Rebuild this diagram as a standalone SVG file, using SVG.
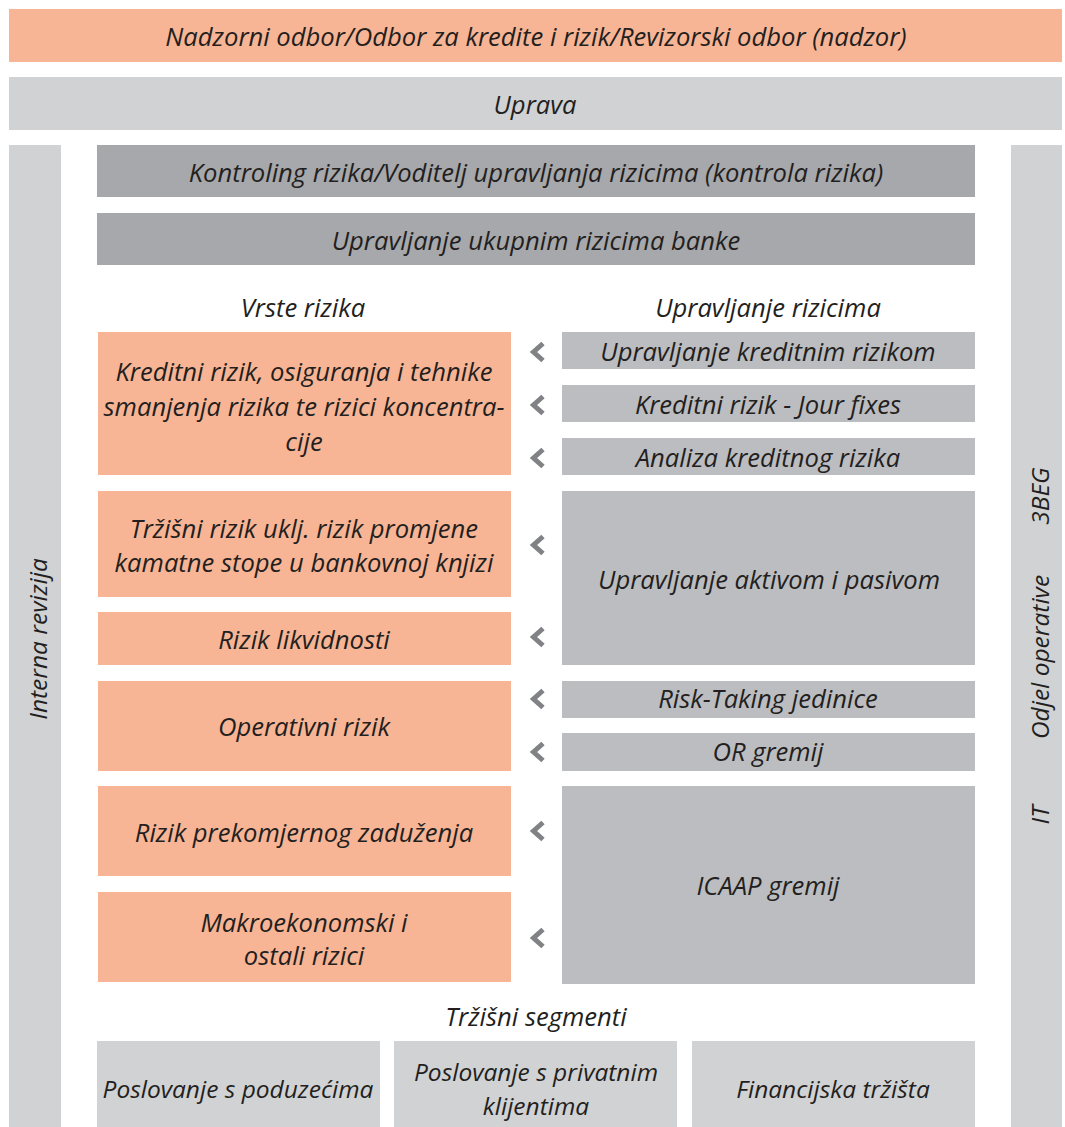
<svg xmlns="http://www.w3.org/2000/svg" width="1065" height="1127" viewBox="0 0 1065 1127">
<style>
.t{font-family:"Open Sans",Lato,"DejaVu Sans",sans-serif;font-style:italic;font-size:25.6px;fill:#231f20;text-anchor:middle;dominant-baseline:central}
.s{font-size:24.5px}
.o{fill:#f8b595}
.l{fill:#d1d2d4}
.d{fill:#a7a8ab}
.m{fill:#bcbdc0}
.ch{fill:none;stroke:#818285;stroke-width:5;stroke-linejoin:miter;stroke-linecap:butt}
</style>
<defs>
<path id="chev" class="ch" d="M6,-8.5 L-3.5,0 L6,8.5"/>
</defs>
<rect width="1065" height="1127" fill="#fff"/>
<g id="nadzor"><rect class="o" x="9" y="9" width="1053" height="53"/><text class="t" x="536" y="36">Nadzorni odbor/Odbor za kredite i rizik/Revizorski odbor (nadzor)</text></g>
<g id="uprava"><rect class="l" x="9" y="77" width="1053" height="53"/><text class="t" x="535" y="104">Uprava</text></g>
<g id="interna"><rect class="l" x="9" y="145" width="52" height="982"/><text class="t s" transform="translate(37,639) rotate(-90)">Interna revizija</text></g>
<g id="odjel"><rect class="l" x="1011" y="145" width="51" height="982"/>
<text class="t s" transform="translate(1039,815) rotate(-90)">IT</text>
<text class="t s" transform="translate(1039,657) rotate(-90)">Odjel operative</text>
<text class="t s" transform="translate(1039,496) rotate(-90)">3BEG</text></g>
<g id="kontroling"><rect class="d" x="97" y="145" width="878" height="52"/><text class="t" x="536" y="172">Kontroling rizika/Voditelj upravljanja rizicima (kontrola rizika)</text></g>
<g id="ukupno"><rect class="d" x="97" y="213" width="878" height="52"/><text class="t" x="536" y="240">Upravljanje ukupnim rizicima banke</text></g>
<g id="vrste"><text class="t" x="303" y="307">Vrste rizika</text></g>
<g id="upravljanje"><text class="t" x="768" y="307">Upravljanje rizicima</text></g>
<g id="r1"><rect class="o" x="98" y="332" width="413" height="143"/><text class="t" x="304" y="371">Kreditni rizik, osiguranja i tehnike</text><text class="t" x="304" y="406">smanjenja rizika te rizici koncentra-</text><text class="t" x="304" y="441">cije</text></g>
<g id="r2"><rect class="o" x="98" y="491" width="413" height="106"/><text class="t" x="304" y="528">Tržišni rizik uklj. rizik promjene</text><text class="t" x="304" y="562">kamatne stope u bankovnoj knjizi</text></g>
<g id="r3"><rect class="o" x="98" y="612" width="413" height="53"/><text class="t" x="304" y="639">Rizik likvidnosti</text></g>
<g id="r4"><rect class="o" x="98" y="681" width="413" height="90"/><text class="t" x="304" y="726">Operativni rizik</text></g>
<g id="r5"><rect class="o" x="98" y="786" width="413" height="90"/><text class="t" x="304" y="832">Rizik prekomjernog zaduženja</text></g>
<g id="r6"><rect class="o" x="98" y="892" width="413" height="90"/><text class="t" x="304" y="922">Makroekonomski i</text><text class="t" x="304" y="955">ostali rizici</text></g>
<g id="u1"><rect class="m" x="562" y="332" width="413" height="37"/><text class="t" x="768" y="351">Upravljanje kreditnim rizikom</text></g>
<g id="u2"><rect class="m" x="562" y="385" width="413" height="37"/><text class="t" x="768" y="404">Kreditni rizik - Jour fixes</text></g>
<g id="u3"><rect class="m" x="562" y="438" width="413" height="37"/><text class="t" x="768" y="457">Analiza kreditnog rizika</text></g>
<g id="u4"><rect class="m" x="562" y="491" width="413" height="174"/><text class="t" x="769" y="579">Upravljanje aktivom i pasivom</text></g>
<g id="u5"><rect class="m" x="562" y="681" width="413" height="37"/><text class="t" x="768" y="698">Risk-Taking jedinice</text></g>
<g id="u6"><rect class="m" x="562" y="733" width="413" height="38"/><text class="t" x="768" y="751">OR gremij</text></g>
<g id="u7"><rect class="m" x="562" y="786" width="413" height="198"/><text class="t" x="768" y="885">ICAAP gremij</text></g>
<g id="connectors">
<use href="#chev" x="537" y="352"/>
<use href="#chev" x="537" y="405"/>
<use href="#chev" x="537" y="458"/>
<use href="#chev" x="537" y="545"/>
<use href="#chev" x="537" y="637"/>
<use href="#chev" x="537" y="699"/>
<use href="#chev" x="537" y="752"/>
<use href="#chev" x="537" y="831"/>
<use href="#chev" x="537" y="938"/>
</g>
<g id="segmenti"><text class="t" x="536" y="1016">Tržišni segmenti</text></g>
<g id="s1"><rect class="l" x="97" y="1041" width="283" height="86"/><text class="t s" x="238" y="1088">Poslovanje s poduzećima</text></g>
<g id="s2"><rect class="l" x="394" y="1041" width="283" height="86"/><text class="t s" x="536" y="1071">Poslovanje s privatnim</text><text class="t s" x="536" y="1105">klijentima</text></g>
<g id="s3"><rect class="l" x="692" y="1041" width="283" height="86"/><text class="t s" x="833" y="1088">Financijska tržišta</text></g>
</svg>
